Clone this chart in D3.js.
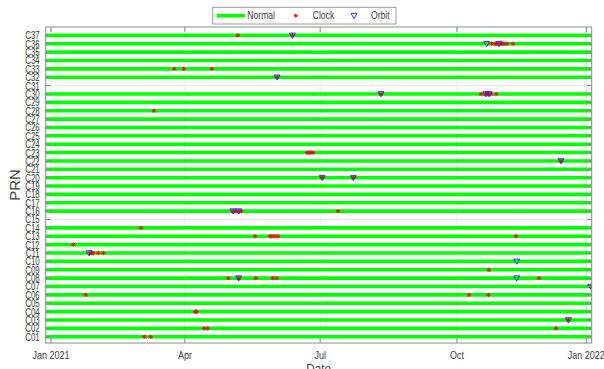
<!DOCTYPE html>
<html>
<head>
<meta charset="utf-8">
<script src="https://cdn.jsdelivr.net/npm/d3@7"></script>
<style>
  html, body { margin: 0; padding: 0; background: #fff; }
  svg text { font-family: "Liberation Sans", Arial, Helvetica, sans-serif; fill: #404040; }
</style>
</head>
<body>
<div id="chart"></div>
<script>
// PRN rows, C01..C37
const prns = d3.range(1, 38).map(i => 'C' + String(i).padStart(2, '0'));
// rows without a normal line
const missingPrns = ['C15', 'C31'];
// normal span, in days from 1 Jan 2021
const normalSpan = [-4, 364];

// x axis ticks (days from 1 Jan 2021)
const tickDays = [0, 90, 181, 273, 360];
const tickLabels = ['Jan 2021', 'Apr', 'Jul', 'Oct', 'Jan 2022'];

// clock anomalies: [prn, day]
const clockEvents = [
  ['C01', 62.7], ['C01', 67.0],
  ['C02', 102.9], ['C02', 105.4], ['C02', 339.6],
  ['C03', 347.9],
  ['C04', 97.0], ['C04', 97.8],
  ['C06', 23.3], ['C06', 281.1], ['C06', 294.1],
  ['C07', 363.0],
  ['C08', 119.2], ['C08', 126.2], ['C08', 137.7], ['C08', 149.1], ['C08', 151.8], ['C08', 328.2],
  ['C09', 294.5],
  ['C11', 26.2], ['C11', 27.4], ['C11', 28.4], ['C11', 31.8], ['C11', 35.2],
  ['C12', 15.0],
  ['C13', 137.2], ['C13', 147.3], ['C13', 148.6], ['C13', 150.6], ['C13', 152.7], ['C13', 312.7],
  ['C14', 60.5],
  ['C16', 122.4], ['C16', 124.4], ['C16', 126.4], ['C16', 127.8], ['C16', 193.0],
  ['C20', 182.4], ['C20', 203.3],
  ['C22', 343.0],
  ['C23', 172.2], ['C23', 173.5], ['C23', 174.8], ['C23', 176.2],
  ['C28', 69.3],
  ['C30', 221.9], ['C30', 289.2], ['C30', 291.9], ['C30', 293.2], ['C30', 294.6], ['C30', 295.9], ['C30', 299.3],
  ['C32', 152.0],
  ['C33', 82.9], ['C33', 89.2], ['C33', 108.1],
  ['C36', 296.4], ['C36', 298.6], ['C36', 299.9], ['C36', 301.9], ['C36', 303.3], ['C36', 304.6], ['C36', 306.7], ['C36', 310.7],
  ['C37', 125.6], ['C37', 162.3]
];

// orbit anomalies: [prn, day]
const orbitEvents = [
  ['C03', 347.9],
  ['C07', 363.0],
  ['C08', 126.2], ['C08', 313.2],
  ['C10', 313.2],
  ['C11', 25.6],
  ['C16', 122.4], ['C16', 126.2],
  ['C20', 182.4], ['C20', 203.3],
  ['C22', 343.0],
  ['C30', 221.9], ['C30', 292.5], ['C30', 294.6],
  ['C32', 152.0],
  ['C36', 293.0], ['C36', 301.3],
  ['C37', 162.3]
];

const width = 604;
const height = 369;
const margin = { top: 27, right: 12.3, bottom: 26, left: 45.7 };

const svg = d3.select('#chart').append('svg')
  .attr('width', width)
  .attr('height', height);

const x = d3.scaleLinear()
  .domain([-3.6, 363.6])
  .range([margin.left, width - margin.right]);

const y = d3.scaleLinear()
  .domain([0.25, 38])
  .range([height - margin.bottom, margin.top]);

const rowY = p => y(prns.indexOf(p) + 1);

svg.append('defs').append('clipPath').attr('id', 'clip')
  .append('rect')
  .attr('x', margin.left).attr('y', margin.top)
  .attr('width', x.range()[1] - x.range()[0])
  .attr('height', y.range()[0] - y.range()[1]);

// grid
const grid = svg.append('g').attr('stroke', '#e8e8e8').attr('stroke-width', 1);
grid.selectAll('.gx').data(tickDays).enter().append('line')
  .attr('x1', d => x(d)).attr('x2', d => x(d))
  .attr('y1', y.range()[1]).attr('y2', y.range()[0]);
grid.selectAll('.gy').data(prns).enter().append('line')
  .attr('x1', x.range()[0]).attr('x2', x.range()[1])
  .attr('y1', d => rowY(d)).attr('y2', d => rowY(d));

const plot = svg.append('g').attr('clip-path', 'url(#clip)');

// normal lines
plot.append('g')
  .selectAll('line')
  .data(prns.filter(p => !missingPrns.includes(p)))
  .enter().append('line')
  .attr('x1', x(normalSpan[0])).attr('x2', x(normalSpan[1]))
  .attr('y1', d => rowY(d)).attr('y2', d => rowY(d))
  .attr('stroke', '#00ff00')
  .attr('stroke-width', 3.6);

// asterisk marker
const star = r => {
  const a = r * 0.707;
  return `M${-r},0H${r}M0,${-r}V${r}M${-a},${-a}L${a},${a}M${-a},${a}L${a},${-a}`;
};
const tri = 'M-3,-2.3L3,-2.3L0,2.9Z';

plot.append('g')
  .selectAll('path')
  .data(clockEvents)
  .enter().append('path')
  .attr('transform', d => `translate(${x(d[1])},${rowY(d[0])})`)
  .attr('d', star(2.3))
  .attr('fill', 'none')
  .attr('stroke', '#ff0000')
  .attr('stroke-width', 0.9);

plot.append('g')
  .selectAll('path')
  .data(orbitEvents)
  .enter().append('path')
  .attr('transform', d => `translate(${x(d[1])},${rowY(d[0])})`)
  .attr('d', tri)
  .attr('fill', 'none')
  .attr('stroke', '#2020ff')
  .attr('stroke-width', 0.9);

// axes box
const x0 = x.range()[0], x1 = x.range()[1];
const yB = y.range()[0], yT = y.range()[1];
const axisColor = '#8a8a8a';
svg.append('rect')
  .attr('x', x0).attr('y', yT)
  .attr('width', x1 - x0).attr('height', yB - yT)
  .attr('fill', 'none')
  .attr('stroke', axisColor)
  .attr('stroke-width', 1);

const tl = 5;
const ticks = svg.append('g').attr('stroke', axisColor).attr('stroke-width', 1);
tickDays.forEach(d => {
  ticks.append('line').attr('x1', x(d)).attr('x2', x(d)).attr('y1', yB).attr('y2', yB - tl);
  ticks.append('line').attr('x1', x(d)).attr('x2', x(d)).attr('y1', yT).attr('y2', yT + tl);
});
prns.forEach(p => {
  ticks.append('line').attr('x1', x0).attr('x2', x0 + tl).attr('y1', rowY(p)).attr('y2', rowY(p));
  ticks.append('line').attr('x1', x1).attr('x2', x1 - tl).attr('y1', rowY(p)).attr('y2', rowY(p));
});

// tick labels (narrow, like the original)
svg.append('g').selectAll('text')
  .data(prns).enter().append('text')
  .attr('transform', d => `translate(${x0 - 6},${rowY(d)}) scale(0.72,1)`)
  .attr('dy', '0.36em')
  .attr('text-anchor', 'end')
  .attr('font-size', 11)
  .text(d => d);

svg.append('g').selectAll('text')
  .data(tickDays).enter().append('text')
  .attr('transform', d => `translate(${x(d)},358.5) scale(0.9,1)`)
  .attr('text-anchor', 'middle')
  .attr('font-size', 10)
  .text((d, i) => tickLabels[i]);

svg.append('text')
  .attr('transform', `translate(${(x0 + x1) / 2},373) scale(0.9,1)`)
  .attr('text-anchor', 'middle')
  .attr('font-size', 13)
  .text('Date');

svg.append('text')
  .attr('transform', `translate(20,${(yT + yB) / 2}) rotate(-90)`)
  .attr('text-anchor', 'middle')
  .attr('font-size', 15)
  .text('PRN');

// legend
const lg = svg.append('g');
lg.append('rect')
  .attr('x', 212.7).attr('y', 7.3)
  .attr('width', 183.3).attr('height', 16.7)
  .attr('fill', '#fff')
  .attr('stroke', '#9a9a9a')
  .attr('stroke-width', 1);
lg.append('line')
  .attr('x1', 216.7).attr('x2', 245).attr('y1', 15.7).attr('y2', 15.7)
  .attr('stroke', '#00ff00').attr('stroke-width', 3.6);
const legendText = (lx, s) => lg.append('text')
  .attr('transform', `translate(${lx},19.3) scale(0.86,1)`)
  .attr('font-size', 10).text(s);
legendText(247.3, 'Normal');
lg.append('path')
  .attr('transform', 'translate(295.7,15.7)')
  .attr('d', star(2.1))
  .attr('fill', 'none').attr('stroke', '#ff0000').attr('stroke-width', 0.9);
legendText(312.7, 'Clock');
lg.append('path')
  .attr('transform', 'translate(354,15.7)')
  .attr('d', tri)
  .attr('fill', 'none').attr('stroke', '#2020ff').attr('stroke-width', 0.9);
legendText(371, 'Orbit');
</script>
</body>
</html>
